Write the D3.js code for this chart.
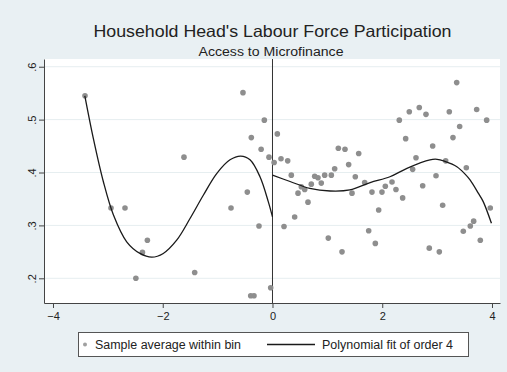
<!DOCTYPE html>
<html>
<head>
<meta charset="utf-8">
<script src="https://cdn.jsdelivr.net/npm/d3@7"></script>
<style>
  html, body { margin: 0; padding: 0; background: #e9f0f3; }
  svg { display: block; font-family: "Liberation Sans", Arial, sans-serif; }
</style>
</head>
<body>
<svg id="chart" width="507" height="372"></svg>
<script>
// ---- data ----
const binX = [-3.417, -2.943, -2.688, -2.49, -2.37, -2.28, -1.613, -1.418, -0.756, -0.538,
  -0.459, -0.397, -0.337, -0.386, -0.246, -0.207, -0.149, -0.064, -0.033,
  0.03, 0.088, 0.155, 0.21, 0.277, 0.343, 0.404, 0.465, 0.525, 0.587, 0.647, 0.707, 0.769,
  0.829, 0.889, 0.951, 1.017, 1.072, 1.133, 1.2, 1.267, 1.321, 1.388, 1.449, 1.509, 1.571,
  1.68, 1.753, 1.813, 1.874, 1.935, 1.995, 2.056, 2.178, 2.25, 2.311, 2.372, 2.427, 2.493,
  2.554, 2.615, 2.675, 2.737, 2.797, 2.857, 2.919, 2.98, 3.04, 3.101, 3.156, 3.222, 3.289,
  3.357, 3.411, 3.477, 3.532, 3.605, 3.666, 3.721, 3.787, 3.903, 3.969];
const binY = [0.545, 0.333, 0.333, 0.200, 0.249, 0.272, 0.429, 0.211, 0.333, 0.551,
  0.363, 0.167, 0.167, 0.466, 0.299, 0.444, 0.499, 0.429, 0.182,
  0.419, 0.473, 0.426, 0.298, 0.422, 0.395, 0.316, 0.361, 0.373, 0.368, 0.344, 0.378, 0.393,
  0.390, 0.380, 0.395, 0.276, 0.395, 0.407, 0.446, 0.250, 0.444, 0.415, 0.361, 0.392, 0.436,
  0.381, 0.290, 0.363, 0.266, 0.329, 0.363, 0.374, 0.382, 0.368, 0.499, 0.352, 0.464, 0.515,
  0.406, 0.428, 0.523, 0.375, 0.510, 0.257, 0.450, 0.394, 0.250, 0.338, 0.422, 0.515, 0.466,
  0.570, 0.487, 0.289, 0.409, 0.299, 0.308, 0.519, 0.272, 0.499, 0.333];

const fitLeftX = [-3.42, -3.266, -3.083, -2.9, -2.657, -2.415, -2.2, -1.99, -1.746, -1.503,
  -1.261, -1.017, -0.774, -0.58, -0.41, -0.228, -0.077, 0];
const fitLeftY = [0.545, 0.465, 0.383, 0.320, 0.269, 0.247, 0.240, 0.247, 0.272, 0.313,
  0.357, 0.398, 0.424, 0.431, 0.424, 0.392, 0.345, 0.316];
const fitRightX = [0, 0.32, 0.68, 1.05, 1.41, 1.78, 2.14, 2.45, 2.87, 3.0, 3.14, 3.36,
  3.51, 3.6, 3.75, 3.84, 3.99];
const fitRightY = [0.395, 0.383, 0.370, 0.365, 0.367, 0.381, 0.392, 0.408, 0.424, 0.425,
  0.421, 0.411, 0.397, 0.386, 0.361, 0.345, 0.304];

const xTicks = [-4, -2, 0, 2, 4];
const yTicks = [0.2, 0.3, 0.4, 0.5, 0.6];
const yTickLabels = [".2", ".3", ".4", ".5", ".6"];

const titleText = "Household Head's Labour Force Participation";
const subtitleText = "Access to Microfinance";
const legendLabels = ["Sample average within bin", "Polynomial fit of order 4"];

// ---- drawing ----
const svg = d3.select("#chart");
const W = 507, H = 372;
const plot = { left: 44, right: 500, top: 59, bottom: 303 };

svg.append("rect").attr("width", W).attr("height", H).attr("fill", "#e9f0f3");

const x = d3.scaleLinear().domain([-4.164, 4.146]).range([plot.left, plot.right]);
const y = d3.scaleLinear().domain([0.1533, 0.6146]).range([plot.bottom, plot.top]);

// plot region
svg.append("rect")
  .attr("x", plot.left).attr("y", plot.top)
  .attr("width", plot.right - plot.left).attr("height", plot.bottom - plot.top)
  .attr("fill", "#ffffff");

// gridlines
svg.append("g").selectAll("line").data(yTicks).join("line")
  .attr("x1", plot.left).attr("x2", plot.right)
  .attr("y1", d => y(d)).attr("y2", d => y(d))
  .attr("stroke", "#e6eef0").attr("stroke-width", 1);

// axes
const xAxis = svg.append("g")
  .attr("transform", `translate(0,${plot.bottom})`)
  .call(d3.axisBottom(x).tickValues(xTicks).tickSize(5).tickSizeOuter(0).tickPadding(4)
    .tickFormat(d3.format("d")));
xAxis.selectAll("text").attr("font-size", 11).attr("fill", "#222")
  .attr("font-family", '"Liberation Sans", Arial, sans-serif');
xAxis.selectAll("path, line").attr("stroke", "#444");

const yAxis = svg.append("g")
  .attr("transform", `translate(${plot.left},0)`)
  .call(d3.axisLeft(y).tickValues(yTicks).tickSize(5).tickSizeOuter(0)
    .tickFormat((d, i) => yTickLabels[i]));
yAxis.selectAll("path, line").attr("stroke", "#444");
yAxis.selectAll("text")
  .attr("x", 0).attr("dy", 0).attr("text-anchor", "middle")
  .attr("transform", "translate(-8,0) rotate(-90)")
  .attr("font-size", 11).attr("fill", "#222")
  .attr("font-family", '"Liberation Sans", Arial, sans-serif');

// cutoff line
svg.append("line")
  .attr("x1", x(0)).attr("x2", x(0))
  .attr("y1", plot.top).attr("y2", plot.bottom)
  .attr("stroke", "#333").attr("stroke-width", 1);

// points
svg.append("g").selectAll("circle").data(binX.map((d, i) => [d, binY[i]])).join("circle")
  .attr("cx", d => x(d[0])).attr("cy", d => y(d[1])).attr("r", 2.8)
  .attr("fill", "#8e8e8e");

// fit lines
const line = d3.line().x(d => x(d[0])).y(d => y(d[1])).curve(d3.curveCatmullRom.alpha(0.5));
svg.append("path").datum(fitLeftX.map((d, i) => [d, fitLeftY[i]]))
  .attr("d", line).attr("fill", "none").attr("stroke", "#1a1a1a").attr("stroke-width", 1.3);
svg.append("path").datum(fitRightX.map((d, i) => [d, fitRightY[i]]))
  .attr("d", line).attr("fill", "none").attr("stroke", "#1a1a1a").attr("stroke-width", 1.3);

// titles
svg.append("text").attr("x", 272.5).attr("y", 37).attr("text-anchor", "middle")
  .attr("font-size", 16.5).attr("fill", "#222")
  .attr("textLength", 358).attr("lengthAdjust", "spacingAndGlyphs").text(titleText);
svg.append("text").attr("x", 271).attr("y", 56).attr("text-anchor", "middle")
  .attr("font-size", 12).attr("fill", "#222")
  .attr("textLength", 145).attr("lengthAdjust", "spacingAndGlyphs").text(subtitleText);

// legend
const lg = svg.append("g");
lg.append("rect").attr("x", 78.5).attr("y", 332.5).attr("width", 390).attr("height", 24)
  .attr("fill", "#ffffff").attr("stroke", "#555").attr("stroke-width", 1);
lg.append("circle").attr("cx", 85).attr("cy", 344.5).attr("r", 2).attr("fill", "#a0a0a0");
lg.append("text").attr("x", 95).attr("y", 349).attr("font-size", 12).attr("fill", "#222")
  .attr("textLength", 146).attr("lengthAdjust", "spacingAndGlyphs")
  .text(legendLabels[0]);
lg.append("line").attr("x1", 267).attr("x2", 315).attr("y1", 344.5).attr("y2", 344.5)
  .attr("stroke", "#1a1a1a").attr("stroke-width", 1.3);
lg.append("text").attr("x", 322).attr("y", 349).attr("font-size", 12).attr("fill", "#222")
  .attr("textLength", 131).attr("lengthAdjust", "spacingAndGlyphs")
  .text(legendLabels[1]);
</script>
</body>
</html>
